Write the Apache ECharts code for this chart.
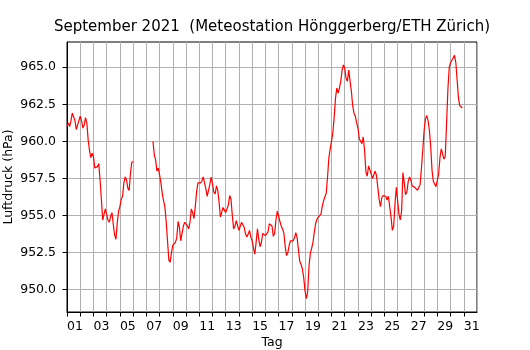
<!DOCTYPE html>
<html>
<head>
<meta charset="utf-8">
<script src="https://cdn.jsdelivr.net/npm/echarts@6/dist/echarts.min.js"></script>
<style>
  html, body { margin: 0; padding: 0; background: #fff; }
  #chart { width: 530px; height: 350px; }
</style>
</head>
<body>
<div id="chart"></div>
<script>
// Luftdruck September 2021, Werte alle 0.1 Tage ab Tag 1.0 (null = keine Messung)
const startDay = 1.0
const stepDay = 0.1
const pressure = [
  961.0, 961.25, 961.0, 961.4, 961.9, 961.8, 961.4, 960.8, 960.7, 961.4,
  961.7, 961.4, 960.9, 961.1, 961.6, 961.25, 960.1, 959.4, 958.9, 959.2,
  959.0, 958.2, 958.1, 958.3, 958.5, 957.4, 956.1, 954.7, 955.1, 955.45,
  955.5, 954.7, 954.55, 954.95, 955.2, 954.4, 953.7, 953.4, 954.5, 955.3,
  955.6, 956.1, 956.3, 957.2, 957.6, 957.4, 956.85, 956.7, 957.85, 958.6,
  958.65, null, null, null, null, null, null, null, null, null,
  null, null, null, null, null, 960.0, 959.1, 958.75, 958.0, 958.2,
  957.75, 957.2, 956.5, 956.0, 955.6, 954.6, 953.3, 952.0, 951.85, 952.5,
  953.0, 953.1, 953.2, 953.5, 954.6, 954.2, 953.3, 953.4, 954.3, 954.55,
  954.5, 954.3, 954.1, 954.55, 955.45, 955.2, 954.8, 955.6, 956.6, 957.2,
  957.25, 957.2, 957.35, 957.6, 957.5, 956.8, 956.3, 956.4, 957.1, 957.6,
  957.15, 956.6, 956.45, 957.0, 956.7, 955.9, 954.9, 954.8, 955.55, 955.55,
  955.2, 955.1, 955.7, 956.35, 956.1, 955.0, 954.1, 954.3, 954.65, 954.55,
  954.0, 954.1, 954.55, 954.65, 954.2, 953.75, 953.55, 953.75, 954.0, 953.55,
  953.3, 952.8, 952.4, 953.2, 954.1, 953.4, 952.9, 953.2, 953.8, 953.85,
  953.65, 953.6, 953.9, 954.45, 954.55, 954.3, 953.6, 953.8, 954.7, 955.3,
  955.4, 954.6, 954.3, 954.1, 953.8, 952.9, 952.3, 952.5, 953.0, 953.3,
  953.2, 953.3, 953.5, 953.85, 953.5, 952.7, 951.9, 951.7, 951.4, 950.8,
  949.9, 949.4, 949.9, 951.6, 952.45, 952.8, 953.2, 953.9, 954.45, 954.75,
  954.9, 955.0, 955.1, 955.6, 956.0, 956.1, 956.5, 957.6, 958.9, 959.5,
  960.0, 960.6, 961.6, 962.9, 963.6, 963.25, 963.6, 964.05, 964.8, 965.15,
  964.95, 964.25, 964.05, 964.8, 964.8, 963.4, 962.4, 961.9, 961.7, 961.25,
  960.9, 960.2, 960.0, 959.85, 960.3, 959.4, 957.95, 957.65, 958.35, 958.4,
  957.8, 957.5, 957.4, 958.0, 957.7, 956.9, 956.1, 955.6, 956.2, 956.35,
  956.35, 956.3, 956.05, 956.3, 956.25, 954.9, 954.0, 954.3, 955.8, 956.9,
  956.0, 955.1, 954.7, 955.3, 957.9, 957.2, 956.4, 956.6, 957.3, 957.6,
  957.4, 957.0, 957.0, 956.9, 956.9, 956.7, 956.6, 957.1, 958.2, 959.4,
  960.7, 961.5, 961.75, 961.4, 960.75, 959.65, 958.05, 957.3, 957.4, 956.95,
  956.9, 957.8, 958.9, 959.5, 959.4, 958.8, 959.0, 961.2, 963.5, 965.0,
  965.3, 965.45, 965.5, 965.8, 965.3, 964.1, 962.9, 962.4, 962.35, 962.25
]
const yTicks = [950.0, 952.5, 955.0, 957.5, 960.0, 962.5, 965.0]
const titleText = 'September 2021  (Meteostation Hönggerberg/ETH Zürich)'

const font = 'DejaVu Sans'
const seriesData = pressure.map((p, i) => [Math.round((startDay + i * stepDay) * 10) / 10, p])

const myChart = echarts.init(document.getElementById('chart'), null, { renderer: 'canvas' })
myChart.setOption({
  animation: false,
  backgroundColor: '#fff',
  title: {
    text: titleText,
    left: 272,
    textAlign: 'center',
    top: 20,
    padding: 0,
    textStyle: { fontFamily: font, fontSize: 15, fontWeight: 'normal', color: '#000' }
  },
  grid: {
    left: 67,
    right: 53,
    top: 42,
    bottom: 38,
    containLabel: false,
    outerBoundsMode: 'none',
    show: true,
    borderColor: '#000',
    borderWidth: 1,
    backgroundColor: 'transparent'
  },
  xAxis: {
    type: 'value',
    min: 1,
    max: 32,
    interval: 1,
    name: 'Tag',
    nameLocation: 'middle',
    nameGap: 24,
    nameMoveOverlap: false,
    nameTextStyle: { fontFamily: font, fontSize: 12.5, color: '#000' },
    axisLine: { show: true, lineStyle: { color: '#000', width: 1 } },
    axisTick: { show: true, length: 4.5, lineStyle: { color: '#000' } },
    axisLabel: {
      margin: 8,
      align: 'left',
      fontFamily: font,
      fontSize: 12.5,
      color: '#000',
      showMaxLabel: false,
      formatter: v => (Number.isInteger(v) && v % 2 === 1 && v <= 31) ? String(v).padStart(2, '0') : ''
    },
    splitLine: { show: true, lineStyle: { color: '#b0b0b0', width: 1 } }
  },
  yAxis: {
    type: 'value',
    min: 948.5,
    max: 966.7,
    name: 'Luftdruck (hPa)',
    nameLocation: 'middle',
    nameGap: 52,
    nameMoveOverlap: false,
    nameTextStyle: { fontFamily: font, fontSize: 12.5, color: '#000' },
    axisLine: { show: true, lineStyle: { color: '#000', width: 1 } },
    axisTick: { show: true, length: 4.5, customValues: yTicks, lineStyle: { color: '#000' } },
    axisLabel: {
      margin: 11,
      fontFamily: font,
      fontSize: 12.5,
      color: '#000',
      customValues: yTicks,
      formatter: v => v.toFixed(1)
    },
    splitLine: { show: true, lineStyle: { color: '#b0b0b0', width: 1 } }
  },
  series: [
    {
      type: 'line',
      data: seriesData,
      showSymbol: false,
      connectNulls: false,
      lineStyle: { color: '#ff0000', width: 1.2 },
      itemStyle: { color: '#ff0000' }
    }
  ]
})
</script>
</body>
</html>
